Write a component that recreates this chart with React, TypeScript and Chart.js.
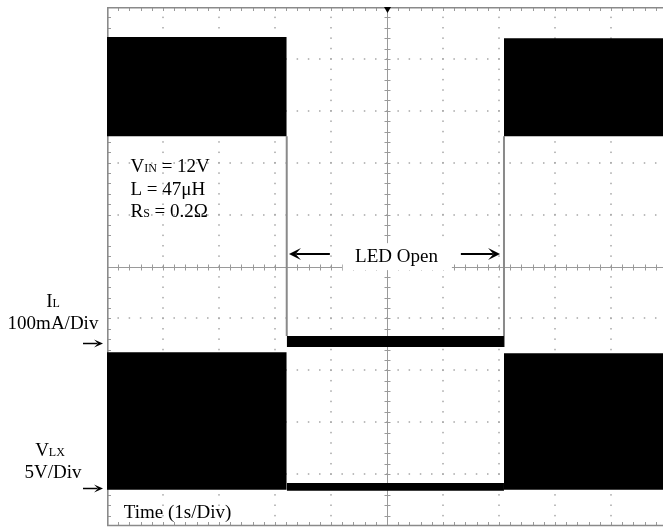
import { useEffect, useRef } from 'react';
import { Chart, registerables } from 'chart.js';

Chart.register(...registerables);

// ---- screen geometry in oscilloscope divisions ----
const X_DIVS = 9.93; // visible horizontal divisions (right edge cropped)
const Y_DIVS = 10;

// ---- trace data (divisions) ----
const switchTimes = [3.21, 7.09]; // LED opens, LED reconnects
const runStart = [0, 7.09];
const runEnd = [3.21, 9.93];
// upper trace band while running
const upperTop = [9.42, 9.4];
const upperBottom = [7.51, 7.51];
// I_L / V_LX switching block while running
const lowerTop = [3.35, 3.33];
const lowerBottom = [0.7, 0.7];
// traces while LED is open
const ilOpen = [3.66, 3.45];
const vlxOpen = [0.83, 0.68];
// ground markers
const ilGround = 3.53;
const vlxGround = 0.73;

// ---- text ----
const condLines: [string, string, string][] = [
  ['V', 'IN', ' = 12V'],
  ['L', '', ' = 47μH'],
  ['R', 'S', ' = 0.2Ω'],
];
const condX = 0.42;
const condY = [6.83, 6.37, 5.96];
const openLabel = 'LED Open';
const timeLabel = 'Time (1s/Div)';

const BIG = '19px "Liberation Serif"';
const SMALL = '12px "Liberation Serif"';

function drawParts(ctx: CanvasRenderingContext2D, parts: [string, string, string], x: number, y: number, center: boolean) {
  ctx.font = BIG;
  const w0 = ctx.measureText(parts[0]).width;
  const w2 = ctx.measureText(parts[2]).width;
  ctx.font = SMALL;
  const w1 = ctx.measureText(parts[1]).width;
  let cx = center ? x - (w0 + w1 + w2) / 2 : x;
  ctx.textAlign = 'left';
  ctx.textBaseline = 'alphabetic';
  ctx.font = BIG;
  ctx.fillText(parts[0], cx, y);
  cx += w0;
  ctx.font = SMALL;
  ctx.fillText(parts[1], cx, y);
  cx += w1;
  ctx.font = BIG;
  ctx.fillText(parts[2], cx, y);
}

function drawArrow(ctx: CanvasRenderingContext2D, x0: number, y: number, x1: number, lw: number, hl: number, hw: number) {
  const dir = Math.sign(x1 - x0);
  ctx.lineWidth = lw;
  ctx.strokeStyle = '#000';
  ctx.fillStyle = '#000';
  ctx.beginPath();
  ctx.moveTo(x0, y);
  ctx.lineTo(x1 - dir * hl * 0.6, y);
  ctx.stroke();
  ctx.beginPath();
  ctx.moveTo(x1, y);
  ctx.lineTo(x1 - dir * hl, y - hw);
  ctx.lineTo(x1 - dir * hl * 0.55, y);
  ctx.lineTo(x1 - dir * hl, y + hw);
  ctx.closePath();
  ctx.fill();
}

const scopePlugin = {
  id: 'scope',
  beforeDraw(chart: any) {
    const { ctx, width, height } = chart;
    ctx.save();
    ctx.fillStyle = '#fff';
    ctx.fillRect(0, 0, width, height);
    ctx.restore();
  },
  beforeDatasetsDraw(chart: any) {
    const { ctx, chartArea: a, scales } = chart;
    const x = scales.x;
    const y = scales.y;
    ctx.save();
    // dotted graticule
    ctx.fillStyle = '#a6a6a6';
    for (let k = 1; k < X_DIVS; k++) {
      if (k === 5) continue;
      const px = Math.round(x.getPixelForValue(k));
      for (let m = 1; m < Y_DIVS * 5; m++) {
        const py = y.getPixelForValue(m * 0.2);
        ctx.fillRect(px - 0.75, py - 0.75, 1.5, 1.5);
      }
    }
    for (let k = 1; k < Y_DIVS; k++) {
      if (k === 5) continue;
      const py = Math.round(y.getPixelForValue(k));
      for (let m = 1; m * 0.2 < X_DIVS; m++) {
        const px = x.getPixelForValue(m * 0.2);
        ctx.fillRect(px - 0.75, py - 0.75, 1.5, 1.5);
      }
    }
    // centre axes with minor ticks
    ctx.strokeStyle = '#9a9a9a';
    ctx.lineWidth = 1;
    const cx = Math.round(x.getPixelForValue(5)) + 0.5;
    const cy = Math.round(y.getPixelForValue(5)) + 0.5;
    ctx.beginPath();
    ctx.moveTo(cx, a.top);
    ctx.lineTo(cx, a.bottom);
    ctx.moveTo(a.left, cy);
    ctx.lineTo(a.right, cy);
    for (let m = 1; m < Y_DIVS * 5; m++) {
      const py = Math.round(y.getPixelForValue(m * 0.2)) + 0.5;
      ctx.moveTo(cx - 3, py);
      ctx.lineTo(cx + 3, py);
    }
    for (let m = 1; m * 0.2 < X_DIVS; m++) {
      const px = Math.round(x.getPixelForValue(m * 0.2)) + 0.5;
      ctx.moveTo(px, cy - 3);
      ctx.lineTo(px, cy + 3);
    }
    ctx.stroke();
    // edge ticks
    ctx.beginPath();
    for (let m = 1; m * 0.2 < X_DIVS; m++) {
      const px = Math.round(x.getPixelForValue(m * 0.2)) + 0.5;
      ctx.moveTo(px, a.top);
      ctx.lineTo(px, a.top + 4);
      ctx.moveTo(px, a.bottom);
      ctx.lineTo(px, a.bottom - 4);
    }
    for (let m = 1; m < Y_DIVS * 5; m++) {
      const py = Math.round(y.getPixelForValue(m * 0.2)) + 0.5;
      ctx.moveTo(a.left, py);
      ctx.lineTo(a.left + 4, py);
    }
    ctx.stroke();
    // border (right edge is cropped off-screen)
    ctx.strokeStyle = '#8a8a8a';
    ctx.lineWidth = 1.6;
    ctx.beginPath();
    ctx.moveTo(a.right, a.top + 0.8);
    ctx.lineTo(a.left + 0.8, a.top + 0.8);
    ctx.lineTo(a.left + 0.8, a.bottom - 0.5);
    ctx.lineTo(a.right, a.bottom - 0.5);
    ctx.stroke();
    // trigger marker
    ctx.fillStyle = '#000';
    ctx.beginPath();
    ctx.moveTo(cx - 3.5, a.top);
    ctx.lineTo(cx + 3.5, a.top);
    ctx.lineTo(cx, a.top + 6);
    ctx.closePath();
    ctx.fill();
    ctx.restore();
  },
  afterDatasetsDraw(chart: any) {
    const { ctx, chartArea: a, scales } = chart;
    const x = scales.x;
    const y = scales.y;
    ctx.save();
    ctx.fillStyle = '#000';
    // conditions
    condLines.forEach((p, i) => drawParts(ctx, p, x.getPixelForValue(condX), y.getPixelForValue(condY[i]), false));
    // LED Open box + label
    const bx0 = x.getPixelForValue(4.21);
    const bx1 = x.getPixelForValue(6.16);
    const by0 = y.getPixelForValue(5.45);
    const by1 = y.getPixelForValue(4.93);
    ctx.fillStyle = '#fff';
    ctx.fillRect(bx0, by0, bx1 - bx0, by1 - by0);
    ctx.fillStyle = '#000';
    ctx.font = BIG;
    ctx.textAlign = 'center';
    ctx.textBaseline = 'alphabetic';
    ctx.fillText(openLabel, x.getPixelForValue(5.17), y.getPixelForValue(5.09));
    const ay = Math.round(y.getPixelForValue(5.24));
    drawArrow(ctx, x.getPixelForValue(3.98), ay, x.getPixelForValue(3.25), 2, 12, 6);
    drawArrow(ctx, x.getPixelForValue(6.32), ay, x.getPixelForValue(7.02), 2, 12, 6);
    // time label
    ctx.textAlign = 'left';
    ctx.font = BIG;
    ctx.fillText(timeLabel, x.getPixelForValue(0.3), y.getPixelForValue(0.15));
    // channel labels (left margin)
    const lx = a.left - 54;
    drawParts(ctx, ['I', 'L', ''], lx, y.getPixelForValue(4.22), true);
    drawParts(ctx, ['100mA/Div', '', ''], lx, y.getPixelForValue(3.79), true);
    drawArrow(ctx, a.left - 24, Math.round(y.getPixelForValue(ilGround)) + 0.5, a.left - 4, 1.5, 9, 4);
    drawParts(ctx, ['V', 'LX', ''], lx - 3, y.getPixelForValue(1.34), true);
    drawParts(ctx, ['5V/Div', '', ''], lx, y.getPixelForValue(0.93), true);
    drawArrow(ctx, a.left - 24, Math.round(y.getPixelForValue(vlxGround)) + 0.5, a.left - 4, 1.5, 9, 4);
    ctx.restore();
  },
};

function block(x0: number, x1: number, top: number, bottom: number) {
  return {
    data: [
      { x: x0, y: top },
      { x: x1, y: top },
    ],
    borderColor: '#000',
    borderWidth: 0,
    backgroundColor: '#000',
    pointRadius: 0,
    fill: { value: bottom },
  };
}

export default function App() {
  const ref = useRef<HTMLCanvasElement>(null);
  useEffect(() => {
    if (!ref.current) return;
    const datasets: any[] = [];
    for (let i = 0; i < 2; i++) {
      datasets.push(block(runStart[i], runEnd[i], upperTop[i], upperBottom[i]));
      datasets.push(block(runStart[i], runEnd[i], lowerTop[i], lowerBottom[i]));
    }
    datasets.push(block(switchTimes[0], switchTimes[1], ilOpen[0], ilOpen[1]));
    datasets.push(block(switchTimes[0], switchTimes[1], vlxOpen[0], vlxOpen[1]));
    datasets.push({
      data: [
        { x: switchTimes[0], y: upperBottom[0] },
        { x: switchTimes[0], y: ilOpen[0] },
        { x: switchTimes[0], y: null },
        { x: switchTimes[1], y: upperBottom[1] },
        { x: switchTimes[1], y: ilOpen[1] },
      ],
      borderColor: '#8a8a8a',
      borderWidth: 2,
      pointRadius: 0,
      fill: false,
      spanGaps: false,
    });
    const chart = new Chart(ref.current, {
      type: 'line',
      data: { datasets },
      options: {
        responsive: false,
        animation: false,
        events: [],
        layout: { padding: { left: 107, top: 7, right: 0, bottom: 1 } },
        plugins: { legend: { display: false }, tooltip: { enabled: false } },
        scales: {
          x: { type: 'linear', min: 0, max: X_DIVS, display: false },
          y: { type: 'linear', min: 0, max: Y_DIVS, display: false },
        },
      },
      plugins: [scopePlugin],
    });
    return () => chart.destroy();
  }, []);
  return (
    <div style={{ position: 'absolute', left: 0, top: 0, width: 663, height: 527 }}>
      <canvas ref={ref} width={663} height={527} style={{ display: 'block' }} />
    </div>
  );
}
